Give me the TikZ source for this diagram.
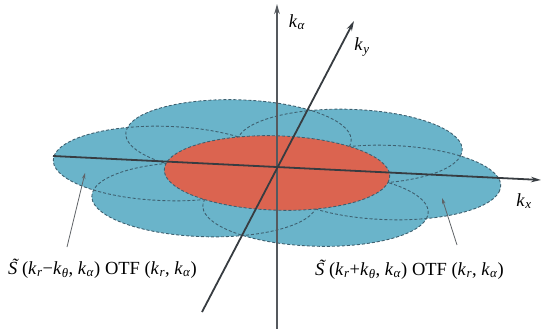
\documentclass[tikz,border=0pt]{standalone}
\usepackage{fontspec}
\setmainfont{Liberation Serif}
\newfontfamily\labfont{Liberation Serif}
\usetikzlibrary{arrows.meta}
\definecolor{lobeblue}{RGB}{106,180,202}
\definecolor{corered}{RGB}{219,100,80}
\definecolor{dashc}{RGB}{62,96,112}
\definecolor{axisc}{RGB}{55,60,65}
\newcommand\kk[1]{\textit{k}\kern0.3pt\textsubscript{\textit{#1}}}
\newcommand\Stil{\textit{S}\llap{\raisebox{0.14em}{\textit{\char"02DC}}\kern-1.5pt}}
\begin{document}
\begin{tikzpicture}[x=1pt,y=-1pt,
  font=\labfont\fontsize{18.5}{22}\selectfont,
  lobefill/.style={fill=lobeblue},
  lobeline/.style={draw=dashc,line width=0.9pt,dash pattern=on 3pt off 2pt},
  corefill/.style={fill=corered},
  axisline/.style={draw=axisc,line width=1.8pt,-{Stealth[length=10pt,width=5.5pt]}},
  ptr/.style={draw=axisc!80,line width=0.8pt,-{Stealth[length=6pt,width=3.5pt]}},
  lbl/.style={inner sep=0pt}]
\useasboundingbox (0,0) rectangle (541,329);
\begin{scope}[shift={(277,173)},x={(111pt,-9.5pt)},y={(19.6pt,36.1pt)}]
  \foreach \a in {0,60,...,300} \fill[lobefill] (\a:1) circle[radius=1];
  \foreach \a in {0,60,...,300} \draw[lobeline] (\a:1) circle[radius=1];
  \fill[corefill] (0,0) circle[radius=1];
  \draw[lobeline] (0,0) circle[radius=1];
\end{scope}
\coordinate (vbot) at (277,329);
\coordinate (vtop) at (277,4);
\coordinate (xleft) at (53,156);
\coordinate (xright) at (541,180);
\coordinate (ybot) at (202,312);
\coordinate (ytop) at (354,21);
\draw[axisline,draw=axisc!85] (vbot) -- (vtop);
\draw[axisline] (xleft) -- (xright);
\draw[axisline] (ybot) -- (ytop);
\node[lbl] (ka) at (297,22) {\kk{α}};
\node[lbl] (ky) at (362,47) {\kk{y}};
\node[lbl] (kx) at (524,201) {\kk{x}};
\node[lbl,anchor=base west] (lab1) at (8,274) {\Stil\ (\kk{r}−\kk{θ}, \kk{α}) OTF (\kk{r}, \kk{α})};
\node[lbl,anchor=base west] (lab2) at (315,275) {\Stil\ (\kk{r}+\kk{θ}, \kk{α}) OTF (\kk{r}, \kk{α})};
\coordinate (p1s) at (67,247);
\coordinate (p1t) at (85,173);
\coordinate (p2s) at (457,245);
\coordinate (p2t) at (442,198);
\draw[ptr] (p1s) -- (p1t);
\draw[ptr] (p2s) -- (p2t);
\end{tikzpicture}
\end{document}
